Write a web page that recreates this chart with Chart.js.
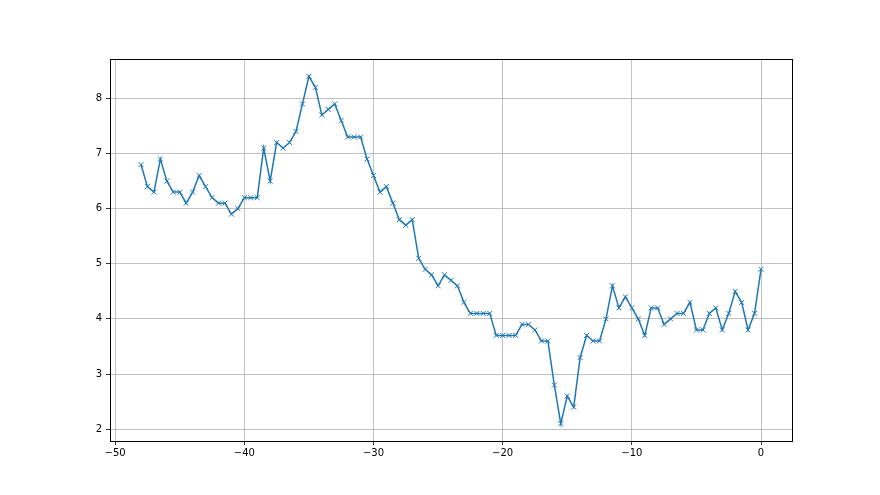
<!DOCTYPE html>
<html>
<head>
<meta charset="utf-8">
<script src="https://cdn.jsdelivr.net/npm/chart.js@4"></script>
<style>
    html, body { margin: 0; padding: 0; background: #fff; }
    #wrap { width: 880px; height: 495px; }
</style>
</head>
<body>
<div id="wrap"><canvas id="lineChart" width="880" height="495"></canvas></div>
<script>
// x positions, every half step from -48 to 0
const xValues = [
    -48, -47.5, -47, -46.5, -46, -45.5, -45, -44.5, -44, -43.5,
    -43, -42.5, -42, -41.5, -41, -40.5, -40, -39.5, -39, -38.5,
    -38, -37.5, -37, -36.5, -36, -35.5, -35, -34.5, -34, -33.5,
    -33, -32.5, -32, -31.5, -31, -30.5, -30, -29.5, -29, -28.5,
    -28, -27.5, -27, -26.5, -26, -25.5, -25, -24.5, -24, -23.5,
    -23, -22.5, -22, -21.5, -21, -20.5, -20, -19.5, -19, -18.5,
    -18, -17.5, -17, -16.5, -16, -15.5, -15, -14.5, -14, -13.5,
    -13, -12.5, -12, -11.5, -11, -10.5, -10, -9.5, -9, -8.5,
    -8, -7.5, -7, -6.5, -6, -5.5, -5, -4.5, -4, -3.5,
    -3, -2.5, -2, -1.5, -1, -0.5, 0
];

// values
const yValues = [
    6.8, 6.4, 6.3, 6.9, 6.5, 6.3, 6.3, 6.1, 6.3, 6.6,
    6.4, 6.2, 6.1, 6.1, 5.9, 6.0, 6.2, 6.2, 6.2, 7.1,
    6.5, 7.2, 7.1, 7.2, 7.4, 7.9, 8.4, 8.2, 7.7, 7.8,
    7.9, 7.6, 7.3, 7.3, 7.3, 6.9, 6.6, 6.3, 6.4, 6.1,
    5.8, 5.7, 5.8, 5.1, 4.9, 4.8, 4.6, 4.8, 4.7, 4.6,
    4.3, 4.1, 4.1, 4.1, 4.1, 3.7, 3.7, 3.7, 3.7, 3.9,
    3.9, 3.8, 3.6, 3.6, 2.8, 2.1, 2.6, 2.4, 3.3, 3.7,
    3.6, 3.6, 4.0, 4.6, 4.2, 4.4, 4.2, 4.0, 3.7, 4.2,
    4.2, 3.9, 4.0, 4.1, 4.1, 4.3, 3.8, 3.8, 4.1, 4.2,
    3.8, 4.1, 4.5, 4.3, 3.8, 4.1, 4.9
];

const xTicks = [-50, -40, -30, -20, -10, 0];
const yTicks = [2, 3, 4, 5, 6, 7, 8];

// draw the top and right spines too
const frame = {
    id: 'frame',
    afterDraw(chart) {
        const { ctx, chartArea: a } = chart;
        ctx.save();
        ctx.strokeStyle = '#000';
        ctx.lineWidth = 1;
        ctx.strokeRect(a.left + 0.5, a.top + 0.5, a.right - a.left, a.bottom - a.top);
        ctx.restore();
    }
};

function createChart() {
    const points = xValues.map((x, i) => ({ x: x, y: yValues[i] }));

    const ctx = document.getElementById('lineChart').getContext('2d');
    new Chart(ctx, {
        type: 'line',
        data: {
            datasets: [{
                data: points,
                borderColor: '#1f77b4',
                backgroundColor: '#1f77b4',
                borderWidth: 1.5,
                pointStyle: 'crossRot',
                pointRadius: 3.5,
                pointBorderWidth: 1,
                pointBorderColor: '#1f77b4',
                pointBackgroundColor: '#1f77b4',
                tension: 0,
                fill: false
            }]
        },
        options: {
            responsive: false,
            animation: false,
            layout: {
                padding: { left: 0, top: 59, right: 88, bottom: 0 }
            },
            scales: {
                x: {
                    type: 'linear',
                    min: -50.4,
                    max: 2.4,
                    afterBuildTicks: (scale) => {
                        scale.ticks = xTicks.map(v => ({ value: v }));
                    },
                    afterFit: (scale) => { scale.height = 54; },
                    grid: {
                        color: '#b0b0b0',
                        lineWidth: 0.8,
                        tickColor: '#000',
                        tickLength: 4
                    },
                    border: { color: '#000' },
                    ticks: {
                        color: '#000',
                        font: { family: 'DejaVu Sans', size: 10 },
                        padding: 2,
                        maxRotation: 0,
                        callback: (v) => v === 0 ? '0' : '\u2212' + Math.abs(v)
                    }
                },
                y: {
                    min: 1.785,
                    max: 8.715,
                    afterBuildTicks: (scale) => {
                        scale.ticks = yTicks.map(v => ({ value: v }));
                    },
                    afterFit: (scale) => { scale.width = 110; },
                    grid: {
                        color: '#b0b0b0',
                        lineWidth: 0.8,
                        tickColor: '#000',
                        tickLength: 4
                    },
                    border: { color: '#000' },
                    ticks: {
                        color: '#000',
                        font: { family: 'DejaVu Sans', size: 10 },
                        padding: 4
                    }
                }
            },
            plugins: {
                legend: { display: false },
                tooltip: { enabled: false }
            }
        },
        plugins: [frame]
    });
}

createChart();
</script>
</body>
</html>
